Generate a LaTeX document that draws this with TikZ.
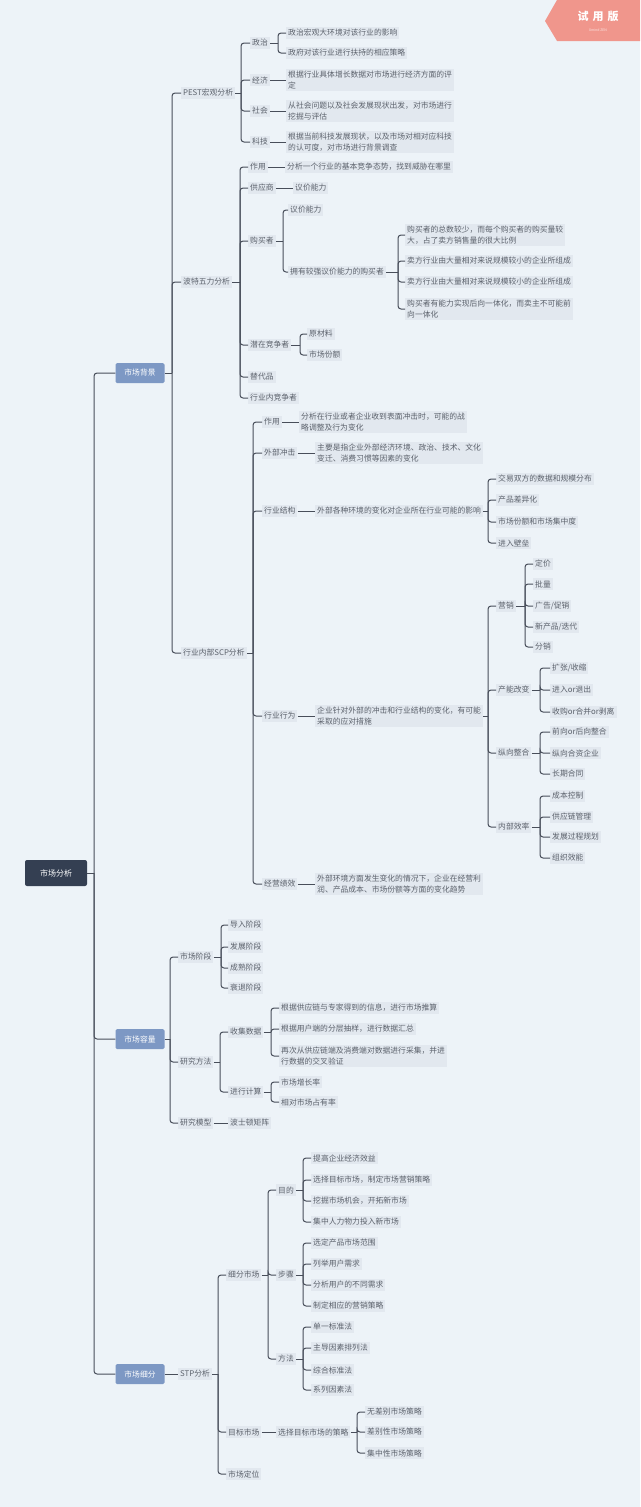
\documentclass[tikz,border=0pt]{standalone}
\usepackage{fontspec}
\setmainfont{Noto Sans CJK SC}
\usetikzlibrary{positioning,calc}
\definecolor{fondo}{RGB}{237,243,248}
\definecolor{sombra}{RGB}{226,232,239}
\definecolor{pizarra}{RGB}{52,63,82}
\definecolor{azulm}{RGB}{125,152,196}
\definecolor{grisf}{RGB}{92,98,108}
\definecolor{linea}{RGB}{72,78,90}
\definecolor{salmon}{RGB}{240,150,140}
\tikzset{
  raiz/.style={fill=pizarra, text=white, rounded corners=2pt, minimum width=62pt, minimum height=26pt, font=\fontsize{8}{10}\selectfont},
  tema/.style={fill=azulm, text=white, rounded corners=1.5pt, minimum width=49pt, minimum height=20pt, font=\fontsize{7.8}{10}\selectfont},
  rama/.style={fill=sombra, text=grisf, anchor=west, inner sep=2pt, align=left, font=\fontsize{7.8}{10.5}\selectfont},
  lin/.style={draw=linea, line width=1pt},
}
% padre, x de la barra, hijos
\newcommand{\horq}[3]{%
  \draw[lin] (#1.east) -- (#1.east-|#2,0);
  \foreach \hj in {#3}{\draw[lin, rounded corners=3pt] (#1.east-|#2,0) |- (\hj.west);}
}

\begin{document}
\begin{tikzpicture}[x=1pt, y=-1pt]
  \fill[fondo] (0,0) rectangle (640,1507);
  \useasboundingbox (0,0) rectangle (640,1507);
  % marca de agua
  \fill[salmon] (545,21) -- (557,0) -- (640,0) -- (640,41) -- (557,41) -- cycle;
  \node[text=white, font=\fontsize{11}{12}\selectfont\bfseries] (marca) at (598,16) {试\hspace{4pt}用\hspace{4pt}版};
  \node[text=white!75!salmon, font=\fontsize{3.5}{4}\selectfont] (marca2) at (598,30) {Xmind ZEN};

  \node[raiz] (raiz) at (56,873) {市场分析};
  \node[tema] (bg) at (140,373) {市场背景};
  \node[tema] (cap) at (140,1039) {市场容量};
  \node[tema] (seg) at (140,1374) {市场细分};

  % PEST
  \node[rama] (pest) at (181,93) {PEST宏观分析};
  \node[rama] (zz) at (250,43) {政治};
  \node[rama] (jj) at (250,80) {经济};
  \node[rama] (sh) at (250,111) {社会};
  \node[rama] (kj) at (250,142) {科技};
  \node[rama] (zz1) at (286,33) {政治宏观大环境对该行业的影响};
  \node[rama] (zz2) at (286,53) {政府对该行业进行扶持的相应策略};
  \node[rama] (jj1) at (286,80) {根据行业具体增长数据对市场进行经济方面的评\\定};
  \node[rama] (sh1) at (286,111) {从社会问题以及社会发展现状出发，对市场进行\\挖掘与评估};
  \node[rama] (kj1) at (286,142) {根据当前科技发展现状，以及市场对相对应科技\\的认可度，对市场进行背景调查};

  % five forces
  \node[rama] (wl) at (181,282) {波特五力分析};
  \node[rama] (zy) at (248,167) {作用};
  \node[rama] (gy) at (248,188) {供应商};
  \node[rama] (gm) at (248,241) {购买者};
  \node[rama] (qz) at (248,345) {潜在竞争者};
  \node[rama] (td) at (248,377) {替代品};
  \node[rama] (hn) at (248,398) {行业内竞争者};
  \node[rama] (zy1) at (285,167) {分析一个行业的基本竞争态势，找到威胁在哪里};
  \node[rama] (gy1) at (293,188) {议价能力};
  \node[rama] (gm1) at (288,210) {议价能力};
  \node[rama] (gm2) at (288,272) {拥有较强议价能力的购买者};
  \node[rama] (gm2a) at (405,235) {购买者的总数较少，而每个购买者的购买量较\\大，占了卖方销售量的很大比例};
  \node[rama] (gm2b) at (405,261) {卖方行业由大量相对来说规模较小的企业所组成};
  \node[rama] (gm2c) at (405,282) {卖方行业由大量相对来说规模较小的企业所组成};
  \node[rama] (gm2d) at (405,309) {购买者有能力实现后向一体化，而卖主不可能前\\向一体化};
  \node[rama] (qz1) at (307,334) {原材料};
  \node[rama] (qz2) at (307,355) {市场份额};

  % SCP
  \node[rama] (scp) at (181,653) {行业内部SCP分析};
  \node[rama] (s1) at (262,422) {作用};
  \node[rama] (s2) at (262,453) {外部冲击};
  \node[rama] (s3) at (262,511) {行业结构};
  \node[rama] (s4) at (262,716) {行业行为};
  \node[rama] (s5) at (262,884) {经营绩效};
  \node[rama] (s1a) at (299,422) {分析在行业或者企业收到表面冲击时，可能的战\\略调整及行为变化};
  \node[rama] (s2a) at (315,453) {主要是指企业外部经济环境、政治、技术、文化\\变迁、消费习惯等因素的变化};
  \node[rama] (s3a) at (315,511) {外部各种环境的变化对企业所在行业可能的影响};
  \node[rama] (s4a) at (315,716) {企业针对外部的冲击和行业结构的变化，有可能\\采取的应对措施};
  \node[rama] (s5a) at (315,884) {外部环境方面发生变化的情况下，企业在经营利\\润、产品成本、市场份额等方面的变化趋势};
  \foreach \y/\t [count=\i] in {479/交易双方的数据和规模分布, 500/产品差异化, 522/市场份额和市场集中度, 543/进入壁垒}
    \node[rama] (jg\i) at (496,\y) {\t};
  \node[rama] (yx) at (496,606) {营销};
  \node[rama] (cn) at (496,690) {产能改变};
  \node[rama] (zh) at (496,753) {纵向整合};
  \node[rama] (nb) at (496,827) {内部效率};
  \foreach \y/\t [count=\i] in {564/定价, 584/批量, 606/{广告/促销}, 627/{新产品/迭代}, 647/分销}
    \node[rama] (yx\i) at (533,\y) {\t};
  \foreach \y/\t [count=\i] in {668/{扩张/收缩}, 690/进入or退出, 712/收购or合并or剥离}
    \node[rama] (cn\i) at (550,\y) {\t};
  \foreach \y/\t [count=\i] in {732/前向or后向整合, 753/纵向合资企业, 774/长期合同}
    \node[rama] (zh\i) at (550,\y) {\t};
  \foreach \y/\t [count=\i] in {796/成本控制, 817/供应链管理, 837/发展过程规划, 858/组织效能}
    \node[rama] (nb\i) at (550,\y) {\t};

  % market size
  \node[rama] (jd) at (178,957) {市场阶段};
  \node[rama] (yf) at (178,1062) {研究方法};
  \node[rama] (mx) at (178,1123) {研究模型};
  \foreach \y/\t [count=\i] in {925/导入阶段, 947/发展阶段, 968/成熟阶段, 988/衰退阶段}
    \node[rama] (jd\i) at (228,\y) {\t};
  \node[rama] (sj) at (228,1032) {收集数据};
  \node[rama] (js) at (228,1092) {进行计算};
  \node[rama] (sj1) at (279,1008) {根据供应链与专家得到的信息，进行市场推算};
  \node[rama] (sj2) at (279,1029) {根据用户端的分层抽样，进行数据汇总};
  \node[rama] (sj3) at (279,1056) {再次从供应链端及消费端对数据进行采集，并进\\行数据的交叉验证};
  \node[rama] (js1) at (279,1082) {市场增长率};
  \node[rama] (js2) at (279,1102) {相对市场占有率};
  \node[rama] (mx1) at (228,1123) {波士顿矩阵};

  % segmentation
  \node[rama] (stp) at (178,1374) {STP分析};
  \node[rama] (xf) at (226,1275) {细分市场};
  \node[rama] (mb) at (226,1432) {目标市场};
  \node[rama] (dw) at (226,1474) {市场定位};
  \node[rama] (md) at (276,1190) {目的};
  \node[rama] (bz) at (276,1275) {步骤};
  \node[rama] (ff) at (276,1359) {方法};
  \foreach \y/\t [count=\i] in {1158/提高企业经济效益, 1180/选择目标市场，制定市场营销策略, 1201/挖掘市场机会，开拓新市场, 1222/集中人力物力投入新市场}
    \node[rama] (md\i) at (311,\y) {\t};
  \foreach \y/\t [count=\i] in {1243/选定产品市场范围, 1264/列举用户需求, 1285/分析用户的不同需求, 1306/制定相应的营销策略}
    \node[rama] (bz\i) at (311,\y) {\t};
  \foreach \y/\t [count=\i] in {1327/单一标准法, 1348/主导因素排列法, 1370/综合标准法, 1390/系列因素法}
    \node[rama] (ff\i) at (311,\y) {\t};
  \node[rama] (cl) at (276,1432) {选择目标市场的策略};
  \foreach \y/\t [count=\i] in {1412/无差别市场策略, 1432/差别性市场策略, 1453/集中性市场策略}
    \node[rama] (cl\i) at (365,\y) {\t};

  % connectors
  \horq{raiz}{94}{bg,cap,seg}
  \horq{bg}{172}{pest,wl,scp}
  \horq{pest}{241}{zz,jj,sh,kj}
  \horq{zz}{278}{zz1,zz2}
  \draw[lin] (jj.east) -- (jj1.west);
  \draw[lin] (sh.east) -- (sh1.west);
  \draw[lin] (kj.east) -- (kj1.west);
  \horq{wl}{240}{zy,gy,gm,qz,td,hn}
  \draw[lin] (zy.east) -- (zy1.west);
  \draw[lin] (gy.east) -- (gy1.west);
  \horq{gm}{283}{gm1,gm2}
  \horq{gm2}{398}{gm2a,gm2b,gm2c,gm2d}
  \horq{qz}{300}{qz1,qz2}
  \horq{scp}{253}{s1,s2,s3,s4,s5}
  \draw[lin] (s1.east) -- (s1a.west);
  \draw[lin] (s2.east) -- (s2a.west);
  \draw[lin] (s3.east) -- (s3a.west);
  \draw[lin] (s4.east) -- (s4a.west);
  \draw[lin] (s5.east) -- (s5a.west);
  \horq{s3a}{488}{jg1,jg2,jg3,jg4}
  \horq{s4a}{488}{yx,cn,zh,nb}
  \horq{yx}{525}{yx1,yx2,yx3,yx4,yx5}
  \horq{cn}{540}{cn1,cn2,cn3}
  \horq{zh}{540}{zh1,zh2,zh3}
  \horq{nb}{540}{nb1,nb2,nb3,nb4}
  \horq{cap}{170}{jd,yf,mx}
  \horq{jd}{221}{jd1,jd2,jd3,jd4}
  \horq{yf}{220}{sj,js}
  \horq{sj}{271}{sj1,sj2,sj3}
  \horq{js}{271}{js1,js2}
  \draw[lin] (mx.east) -- (mx1.west);
  \draw[lin] (seg.east) -- (stp.west);
  \horq{stp}{218}{xf,mb,dw}
  \horq{xf}{268}{md,bz,ff}
  \horq{md}{303}{md1,md2,md3,md4}
  \horq{bz}{303}{bz1,bz2,bz3,bz4}
  \horq{ff}{303}{ff1,ff2,ff3,ff4}
  \draw[lin] (mb.east) -- (cl.west);
  \horq{cl}{357}{cl1,cl2,cl3}
\end{tikzpicture}
\end{document}
